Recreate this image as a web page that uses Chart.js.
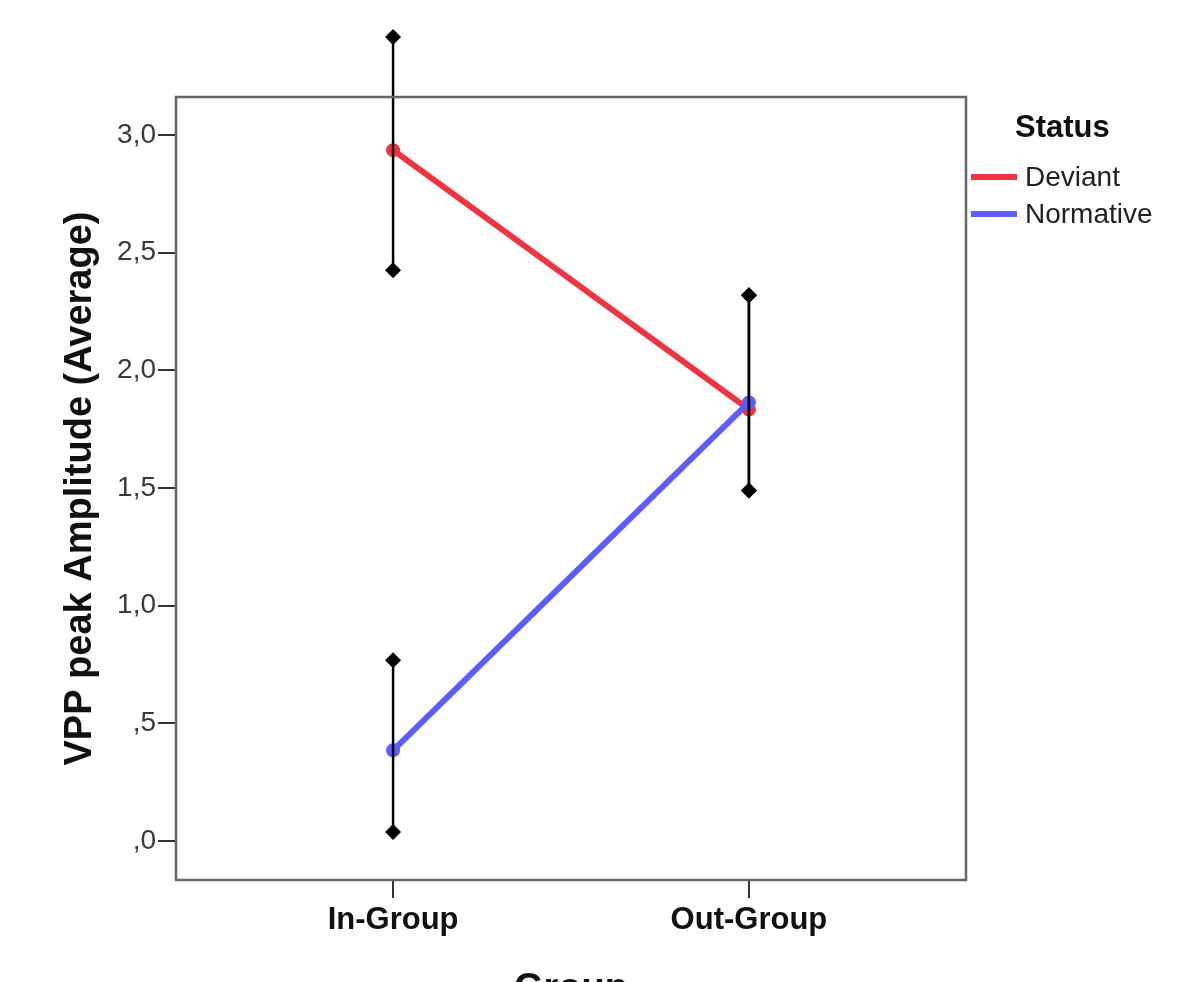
<!DOCTYPE html>
<html lang="en">

<head>
    <meta charset="UTF-8">
    <title>VPP peak Amplitude</title>
    <script src="https://cdn.jsdelivr.net/npm/chart.js"></script>
    <style>
        html, body {
            margin: 0;
            padding: 0;
            background: #ffffff;
        }

        .grafico {
            width: 1179px;
            height: 982px;
        }
    </style>
</head>

<body>
    <div class="grafico">
        <canvas id="graficoLinhas"></canvas>
    </div>

    <script>
        // dados
        const grupos = ['In-Group', 'Out-Group'];
        const status = ['Deviant', 'Normative'];
        const mediasDeviant = [2.936, 1.834];
        const mediasNormative = [0.385, 1.864];

        // barras de erro (min / max) por grupo
        const erroDeviantMin = [2.426, 1.490];
        const erroDeviantMax = [3.417, 2.319];
        const erroNormativeMin = [0.038, 1.490];
        const erroNormativeMax = [0.768, 2.319];

        const yTicks = [0, 0.5, 1.0, 1.5, 2.0, 2.5, 3.0];
        const yTickLabels = [',0', ',5', '1,0', '1,5', '2,0', '2,5', '3,0'];

        const corDeviant = '#ef3340';
        const corNormative = '#5c5cff';
        const fonte = "'Liberation Sans', Arial, sans-serif";

        function linhaMedia(valores) {
            return valores.map((v, i) => ({ x: i, y: v }));
        }

        function barraErro(i, min, max) {
            return {
                label: 'erro',
                data: [{ x: i, y: min[i] }, { x: i, y: max[i] }],
                borderColor: '#000000',
                backgroundColor: '#000000',
                borderWidth: 2.5,
                pointStyle: 'rectRot',
                pointRadius: 8,
                pointBorderWidth: 0,
                clip: false,
                order: 0
            };
        }

        const datasets = [];
        grupos.forEach((g, i) => {
            datasets.push(barraErro(i, erroDeviantMin, erroDeviantMax));
            datasets.push(barraErro(i, erroNormativeMin, erroNormativeMax));
        });
        datasets.push({
            label: status[1],
            data: linhaMedia(mediasNormative),
            borderColor: corNormative,
            backgroundColor: corNormative,
            borderWidth: 6,
            pointRadius: 7,
            pointBorderWidth: 0,
            order: 1
        });
        datasets.push({
            label: status[0],
            data: linhaMedia(mediasDeviant),
            borderColor: corDeviant,
            backgroundColor: corDeviant,
            borderWidth: 6,
            pointRadius: 7,
            pointBorderWidth: 0,
            order: 2
        });

        // moldura, marcadores fora da area e legenda estilo SPSS
        const moldura = {
            id: 'moldura',
            afterDatasetsDraw(chart) {
                // o Chart.js nao desenha pontos fora da chartArea: redesenha os das barras de erro
                const tela = { left: 0, top: 0, right: chart.width, bottom: chart.height };
                chart.data.datasets.forEach((ds, i) => {
                    if (ds.label !== 'erro') return;
                    chart.getDatasetMeta(i).data.forEach(p => {
                        if (p.y < chart.chartArea.top || p.y > chart.chartArea.bottom) {
                            p.draw(chart.ctx, tela);
                        }
                    });
                });
            },
            afterDraw(chart) {
                const ctx = chart.ctx;
                const a = chart.chartArea;
                ctx.save();
                ctx.strokeStyle = '#666666';
                ctx.lineWidth = 2.5;
                ctx.strokeRect(a.left, a.top, a.right - a.left, a.bottom - a.top);

                // legenda
                ctx.fillStyle = '#111111';
                ctx.textBaseline = 'middle';
                ctx.font = 'bold 31px ' + fonte;
                ctx.fillText('Status', 1015, 128);
                const itens = [[status[0], corDeviant, 177], [status[1], corNormative, 214]];
                itens.forEach(item => {
                    ctx.strokeStyle = item[1];
                    ctx.lineWidth = 6;
                    ctx.beginPath();
                    ctx.moveTo(971, item[2]);
                    ctx.lineTo(1017, item[2]);
                    ctx.stroke();
                    ctx.fillStyle = '#222222';
                    ctx.font = '28px ' + fonte;
                    ctx.fillText(item[0], 1025, item[2] + 1);
                });
                ctx.restore();
            }
        };

        const ctx = document.getElementById('graficoLinhas').getContext('2d');

        new Chart(ctx, {
            type: 'line',
            data: { datasets: datasets },
            plugins: [moldura],
            options: {
                responsive: true,
                maintainAspectRatio: false,
                animation: false,
                layout: {
                    padding: { top: 97, right: 213, left: 0, bottom: -30 }
                },
                plugins: {
                    legend: { display: false },
                    tooltip: { enabled: false }
                },
                scales: {
                    x: {
                        type: 'linear',
                        min: -0.61,
                        max: 1.61,
                        afterFit: (scale) => { scale.height = 132; },
                        afterBuildTicks: (scale) => {
                            scale.ticks = grupos.map((g, i) => ({ value: i }));
                        },
                        grid: {
                            drawOnChartArea: false,
                            drawTicks: true,
                            tickLength: 18,
                            color: '#333333',
                            lineWidth: 2
                        },
                        border: { display: false },
                        ticks: {
                            color: '#111111',
                            padding: 4,
                            maxRotation: 0,
                            font: { family: fonte, size: 31, weight: 'bold' },
                            callback: (value) => grupos[value]
                        },
                        title: {
                            display: true,
                            text: 'Group',
                            color: '#111111',
                            padding: { top: 0, bottom: 0 },
                            font: { family: fonte, size: 38, weight: 'bold' }
                        }
                    },
                    y: {
                        type: 'linear',
                        min: -0.166,
                        max: 3.162,
                        afterFit: (scale) => { scale.width = 176; },
                        afterBuildTicks: (scale) => {
                            scale.ticks = yTicks.map(v => ({ value: v }));
                        },
                        grid: {
                            drawOnChartArea: false,
                            drawTicks: true,
                            tickLength: 18,
                            color: '#333333',
                            lineWidth: 2
                        },
                        border: { display: false },
                        ticks: {
                            color: '#3a3a3a',
                            padding: 2,
                            font: { family: fonte, size: 28 },
                            callback: (value) => yTickLabels[yTicks.indexOf(value)]
                        },
                        title: {
                            display: true,
                            text: 'VPP peak Amplitude (Average)',
                            color: '#111111',
                            padding: { top: 58, bottom: 0 },
                            font: { family: fonte, size: 38, weight: 'bold' }
                        }
                    }
                }
            }
        });
    </script>
</body>

</html>
